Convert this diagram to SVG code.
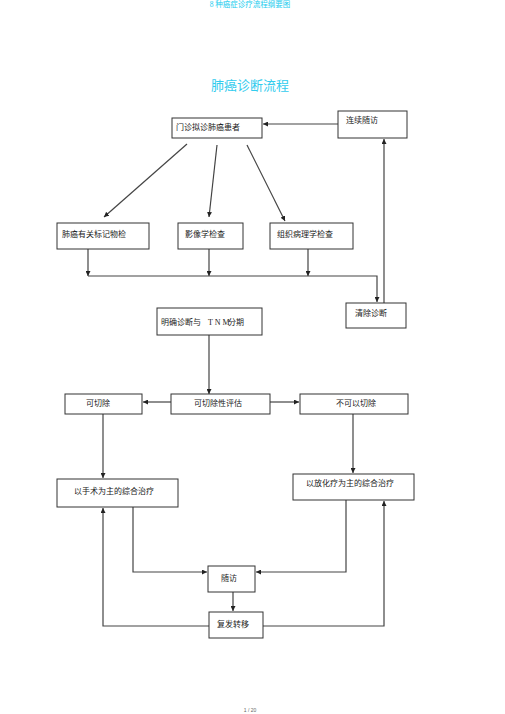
<svg xmlns="http://www.w3.org/2000/svg" width="505" height="714" viewBox="0 0 505 714">
<style>
.box{fill:#fff;stroke:#333;stroke-width:1}
.t{font-family:"Liberation Serif","Noto Sans CJK SC",serif;font-size:8px;fill:#222}
.c{fill:none;stroke:#444;stroke-width:1.2}
</style>
<defs>
<marker id="ah" viewBox="0 0 10 10" refX="10" refY="5" markerWidth="5" markerHeight="5" orient="auto" markerUnits="userSpaceOnUse">
<path d="M0,0 L10,5 L0,10 z" fill="#222"/>
</marker>
</defs>
<rect width="505" height="714" fill="#fff"/>
<text x="250" y="7" text-anchor="middle" font-family="Liberation Serif,'Noto Sans CJK SC',serif" font-size="7.5" fill="#22ccee">8 种癌症诊疗流程纲要图</text>
<text x="250" y="90" text-anchor="middle" font-family="Liberation Serif,'Noto Sans CJK SC',serif" font-size="13" fill="#33ccee">肺癌诊断流程</text>
<text x="250" y="712" text-anchor="middle" font-family="Liberation Sans,sans-serif" font-size="5" fill="#666">1 / 20</text>

<g id="connectors">
<path class="c" d="M338,124 L263,124" marker-end="url(#ah)"/>
<path class="c" d="M187,144 L104,217" marker-end="url(#ah)"/>
<path class="c" d="M217,145 L209,217" marker-end="url(#ah)"/>
<path class="c" d="M247,145 L285,221" marker-end="url(#ah)"/>
<path class="c" d="M88,249 L88,276" marker-end="url(#ah)"/>
<path class="c" d="M209,249 L209,276" marker-end="url(#ah)"/>
<path class="c" d="M308,249 L308,276" marker-end="url(#ah)"/>
<path class="c" d="M88,276 L377,276 L377,302" marker-end="url(#ah)"/>
<path class="c" d="M384,303 L384,139" marker-end="url(#ah)"/>
<path class="c" d="M209,335 L209,394" marker-end="url(#ah)"/>
<path class="c" d="M171,402 L143,402" marker-end="url(#ah)"/>
<path class="c" d="M270,402 L299,402" marker-end="url(#ah)"/>
<path class="c" d="M103,414 L103,478" marker-end="url(#ah)"/>
<path class="c" d="M353,414 L353,473" marker-end="url(#ah)"/>
<path class="c" d="M133,507 L133,572 L207,572" marker-end="url(#ah)"/>
<path class="c" d="M346,500 L346,572 L256,572" marker-end="url(#ah)"/>
<path class="c" d="M233,592 L233,611" marker-end="url(#ah)"/>
<path class="c" d="M209,626 L103,626 L103,508" marker-end="url(#ah)"/>
<path class="c" d="M263,626 L384,626 L384,501" marker-end="url(#ah)"/>
</g>

<g id="n-outpatient"><rect class="box" x="172" y="118" width="90" height="20"/><text class="t" x="176" y="130">门诊拟诊肺癌患者</text></g>
<g id="n-followup-cont"><rect class="box" x="338" y="111" width="69" height="27"/><text class="t" x="346" y="123">连续随访</text></g>
<g id="n-marker"><rect class="box" x="57" y="223" width="92" height="26"/><text class="t" x="62" y="237">肺癌有关标记物检</text></g>
<g id="n-imaging"><rect class="box" x="178" y="223" width="65" height="26"/><text class="t" x="185" y="237">影像学检查</text></g>
<g id="n-pathology"><rect class="box" x="270" y="223" width="83" height="26"/><text class="t" x="277" y="237">组织病理学检查</text></g>
<g id="n-exclude"><rect class="box" x="346" y="303" width="60" height="25"/><text class="t" x="355" y="316">清除诊断</text></g>
<g id="n-tnm"><rect class="box" x="157" y="308" width="105" height="27"/><text class="t" x="161" y="325">明确诊断与<tspan x="208">T N M</tspan><tspan x="228">分期</tspan></text></g>
<g id="n-resectable"><rect class="box" x="65" y="394" width="77" height="20"/><text class="t" x="86" y="406">可切除</text></g>
<g id="n-assess"><rect class="box" x="171" y="394" width="99" height="20"/><text class="t" x="194" y="406">可切除性评估</text></g>
<g id="n-unresectable"><rect class="box" x="300" y="394" width="108" height="20"/><text class="t" x="336" y="406">不可以切除</text></g>
<g id="n-surgery"><rect class="box" x="57" y="479" width="121" height="28"/><text class="t" x="74" y="494">以手术为主的综合治疗</text></g>
<g id="n-chemo"><rect class="box" x="293" y="474" width="121" height="26"/><text class="t" x="306" y="486">以放化疗为主的综合治疗</text></g>
<g id="n-followup"><rect class="box" x="208" y="566" width="47" height="26"/><text class="t" x="221" y="581">随访</text></g>
<g id="n-recurrence"><rect class="box" x="209" y="612" width="54" height="26"/><text class="t" x="217" y="627">复发转移</text></g>
</svg>
